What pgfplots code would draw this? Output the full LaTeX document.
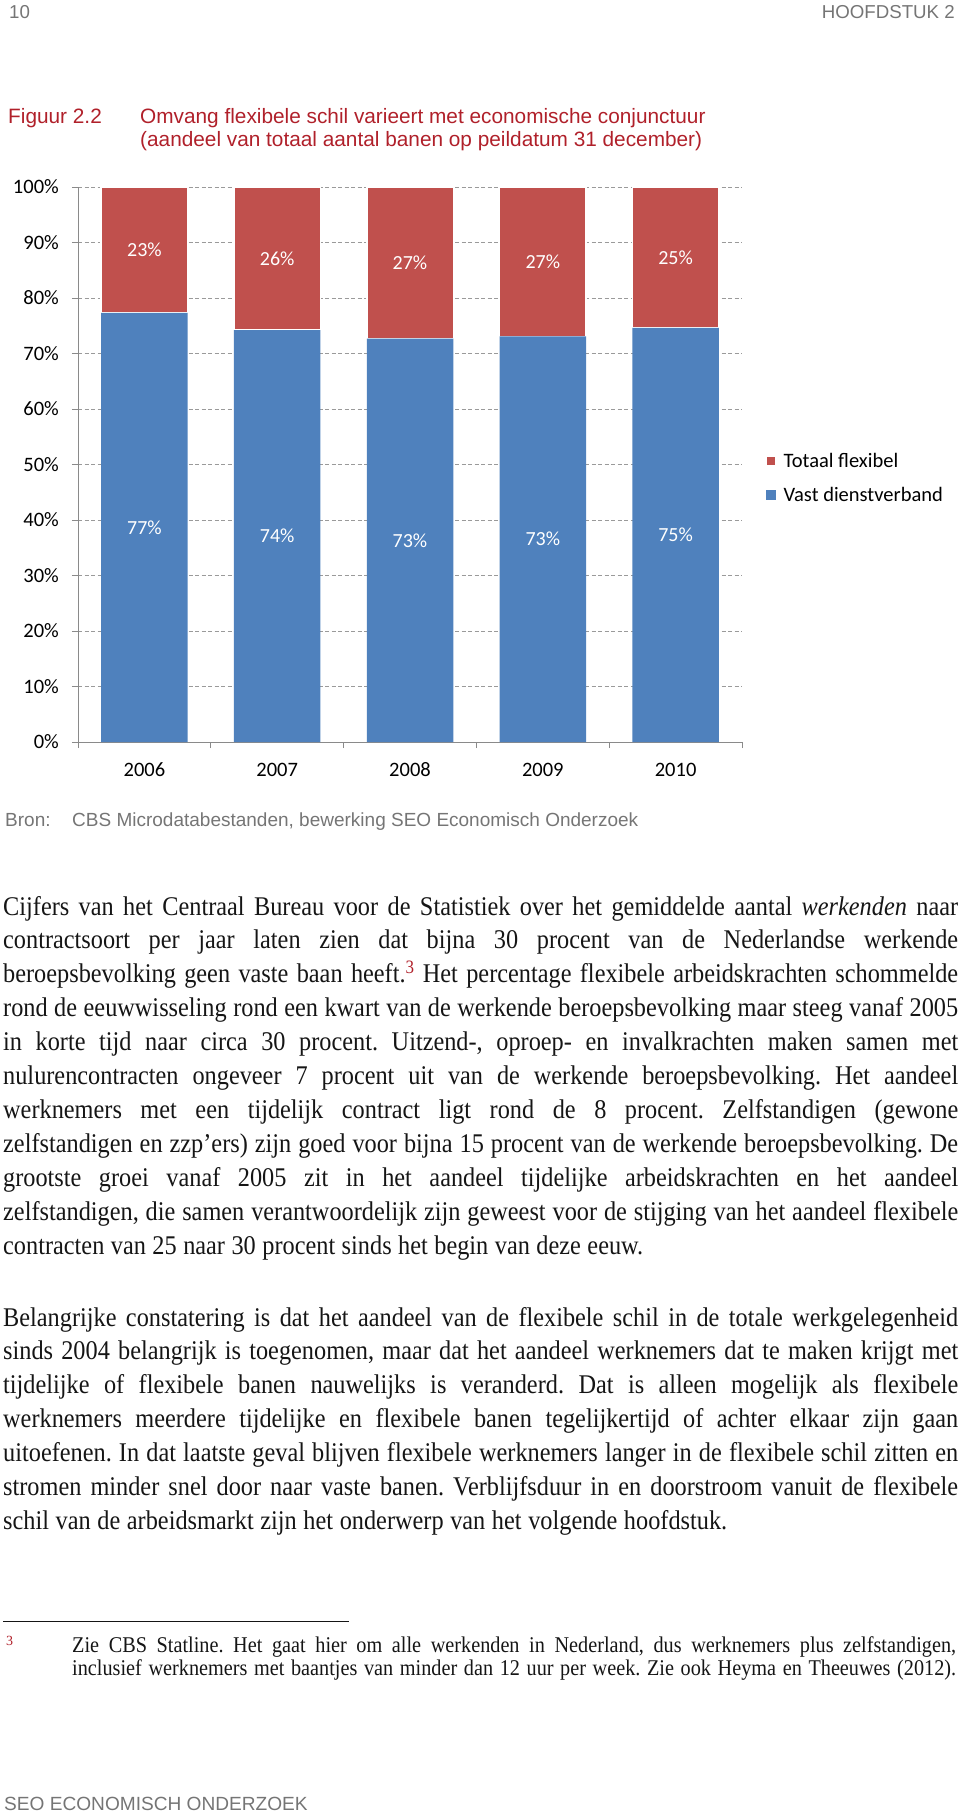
\documentclass[border=0pt]{standalone}
\usepackage{fontspec}
\setmainfont{Liberation Serif}
\newfontfamily\arial{Liberation Sans}
\newfontfamily\calibri{Carlito}
\usepackage{graphicx}
\usepackage{pgfplots}
\pgfplotsset{compat=1.18}

\definecolor{barred}{HTML}{C0504D}
\definecolor{barblue}{HTML}{4F81BD}
\definecolor{titred}{HTML}{B0202A}
\definecolor{hdrgray}{HTML}{757575}
\definecolor{axgray}{HTML}{8A8A8A}
\definecolor{gridgray}{HTML}{9A9A9A}
\definecolor{bodyblack}{HTML}{151515}

\newlength\natw
\newlength\lw
\newcommand\hs{0.90}
\newcommand\hsinv{1.1111}
\newcommand\jline[2]{%
  \setlength\lw{#1}%
  \settowidth\natw{#2}%
  \ifdim\hs\natw>\lw
    \resizebox{\lw}{\height}{#2}%
  \else
    \scalebox{\hs}[1]{\makebox[\hsinv\lw][s]{#2}}%
  \fi}
\newcommand\bodyfont{\fontsize{27}{33}\selectfont\color{bodyblack}\frenchspacing}
\newcommand\footfont{\fontsize{22.5}{26}\selectfont\color{bodyblack}\frenchspacing}
\newcommand\bl[2]{\node[anchor=base west,inner sep=0pt] at (3,#1) {\bodyfont\jline{955pt}{#2}};}
\newcommand\bll[3]{\node[anchor=base west,inner sep=0pt] at (3,#1) {\bodyfont\jline{#2}{#3}};}
\newcommand\fn{\textsuperscript{\color{titred}3}}

\begin{document}
\begin{tikzpicture}
\begin{scope}[x=1pt,y=-1pt]
\path[use as bounding box] (0,0) rectangle (960,1814);
% header
\node[anchor=base west,inner sep=0pt] at (9,19) {\arial\fontsize{18.7}{22}\selectfont\color{hdrgray}10};
\node[anchor=base east,inner sep=0pt] at (955,19) {\arial\fontsize{18.7}{22}\selectfont\color{hdrgray}HOOFDSTUK 2};
% title
\node[anchor=base west,inner sep=0pt] at (8,123.3) {\arial\fontsize{20.8}{24}\selectfont\color{titred}Figuur 2.2};
\node[anchor=base west,inner sep=0pt] at (140,123.3) {\arial\fontsize{20.8}{24}\selectfont\color{titred}Omvang flexibele schil varieert met economische conjunctuur};
\node[anchor=base west,inner sep=0pt] at (140,146.7) {\arial\fontsize{20.8}{24}\selectfont\color{titred}(aandeel van totaal aantal banen op peildatum 31 december)};
% source
\node[anchor=base west,inner sep=0pt] at (5,826) {\arial\fontsize{19}{22}\selectfont\color{hdrgray}Bron:};
\node[anchor=base west,inner sep=0pt] at (72,826) {\arial\fontsize{19}{22}\selectfont\color{hdrgray}CBS Microdatabestanden, bewerking SEO Economisch Onderzoek};
% paragraph 1
\bl{915}{Cijfers van het Centraal Bureau voor de Statistiek over het gemiddelde aantal \textit{werkenden} naar}
\bl{948.9}{contractsoort per jaar laten zien dat bijna 30 procent van de Nederlandse werkende}
\bl{982.8}{beroepsbevolking geen vaste baan heeft.\fn{} Het percentage flexibele arbeidskrachten schommelde}
\bl{1016.7}{rond de eeuwwisseling rond een kwart van de werkende beroepsbevolking maar steeg vanaf 2005}
\bl{1050.6}{in korte tijd naar circa 30 procent. Uitzend-, oproep- en invalkrachten maken samen met}
\bl{1084.5}{nulurencontracten ongeveer 7 procent uit van de werkende beroepsbevolking. Het aandeel}
\bl{1118.4}{werknemers met een tijdelijk contract ligt rond de 8 procent. Zelfstandigen (gewone}
\bl{1152.3}{zelfstandigen en zzp’ers) zijn goed voor bijna 15 procent van de werkende beroepsbevolking. De}
\bl{1186.2}{grootste groei vanaf 2005 zit in het aandeel tijdelijke arbeidskrachten en het aandeel}
\bl{1220.1}{zelfstandigen, die samen verantwoordelijk zijn geweest voor de stijging van het aandeel flexibele}
\bll{1254}{640pt}{contracten van 25 naar 30 procent sinds het begin van deze eeuw.}
% paragraph 2
\bl{1326}{Belangrijke constatering is dat het aandeel van de flexibele schil in de totale werkgelegenheid}
\bl{1359.9}{sinds 2004 belangrijk is toegenomen, maar dat het aandeel werknemers dat te maken krijgt met}
\bl{1393.8}{tijdelijke of flexibele banen nauwelijks is veranderd. Dat is alleen mogelijk als flexibele}
\bl{1427.7}{werknemers meerdere tijdelijke en flexibele banen tegelijkertijd of achter elkaar zijn gaan}
\bl{1461.6}{uitoefenen. In dat laatste geval blijven flexibele werknemers langer in de flexibele schil zitten en}
\bl{1495.5}{stromen minder snel door naar vaste banen. Verblijfsduur in en doorstroom vanuit de flexibele}
\bll{1529.4}{724pt}{schil van de arbeidsmarkt zijn het onderwerp van het volgende hoofdstuk.}
% footnote
\draw[line width=1.3pt,bodyblack] (3,1621.5) -- (349,1621.5);
\node[anchor=base west,inner sep=0pt] at (6,1645) {\fontsize{14}{16}\selectfont\color{titred}3};
\node[anchor=base west,inner sep=0pt] at (72,1652) {\footfont\jline{884pt}{Zie CBS Statline. Het gaat hier om alle werkenden in Nederland, dus werknemers plus zelfstandigen,}};
\node[anchor=base west,inner sep=0pt] at (72,1675) {\footfont\jline{884pt}{inclusief werknemers met baantjes van minder dan 12 uur per week. Zie ook Heyma en Theeuwes (2012).}};
% footer
\node[anchor=base west,inner sep=0pt] at (4,1810) {\arial\fontsize{19.1}{22}\selectfont\color{hdrgray}SEO ECONOMISCH ONDERZOEK};
\end{scope}

\begin{axis}[
  at={(78pt,-742pt)}, anchor=south west,
  scale only axis, width=664pt, height=555pt,
  xmin=-0.5, xmax=4.5, ymin=0, ymax=100,
  clip=false,
  ybar stacked, bar width=86.5pt,
  axis lines*=left,
  axis line style={draw=axgray, line width=1pt},
  ytick={0,10,...,100},
  yticklabels={0\%,10\%,20\%,30\%,40\%,50\%,60\%,70\%,80\%,90\%,100\%},
  xtick={-0.5,0.5,1.5,2.5,3.5,4.5},
  xticklabels={},
  extra x ticks={0,1,2,3,4},
  extra x tick labels={2006,2007,2008,2009,2010},
  extra x tick style={major tick length=0pt, xticklabel style={anchor=base, inner sep=0pt, yshift=-34pt}},
  tick align=outside, major tick length=6pt,
  tick style={draw=axgray, line width=1pt},
  ymajorgrids,
  major grid style={draw=gridgray, dash pattern=on 4pt off 2.5pt, line width=1pt},
  ticklabel style={font=\calibri\fontsize{20.5}{24}\selectfont, text=black},
  yticklabel style={anchor=east, inner sep=0pt, xshift=-13pt},
  point meta=explicit symbolic,
  nodes near coords,
  every node near coord/.append style={font=\calibri\fontsize{20}{24}\selectfont, text=white, anchor=center},
  legend style={at={(rel axis cs:1.0346,0.4757)}, anchor=west, draw=none, fill=none, inner sep=0pt,
    font=\calibri\fontsize{20.5}{24}\selectfont, row sep=18pt,
    nodes={inner sep=0pt},
    /tikz/every odd column/.append style={column sep=7pt}},
  legend cell align=left,
  reverse legend,
  legend image code/.code={\fill[#1] (0pt,-5pt) rectangle (10pt,5pt);},
]
\addplot[fill=barblue, draw=none] coordinates {(0,77.3) [77\%] (1,74.2) [74\%] (2,72.7) [73\%] (3,73.1) [73\%] (4,74.6) [75\%]};
\addplot[fill=barred, draw=white, line width=1.5pt] coordinates {(0,22.7) [23\%] (1,25.8) [26\%] (2,27.3) [27\%] (3,26.9) [27\%] (4,25.4) [25\%]};
\legend{Vast dienstverband, Totaal flexibel}
\draw[axgray, line width=1pt] (rel axis cs:0,0) -- (rel axis cs:1,0);
\end{axis}
\end{tikzpicture}
\end{document}
